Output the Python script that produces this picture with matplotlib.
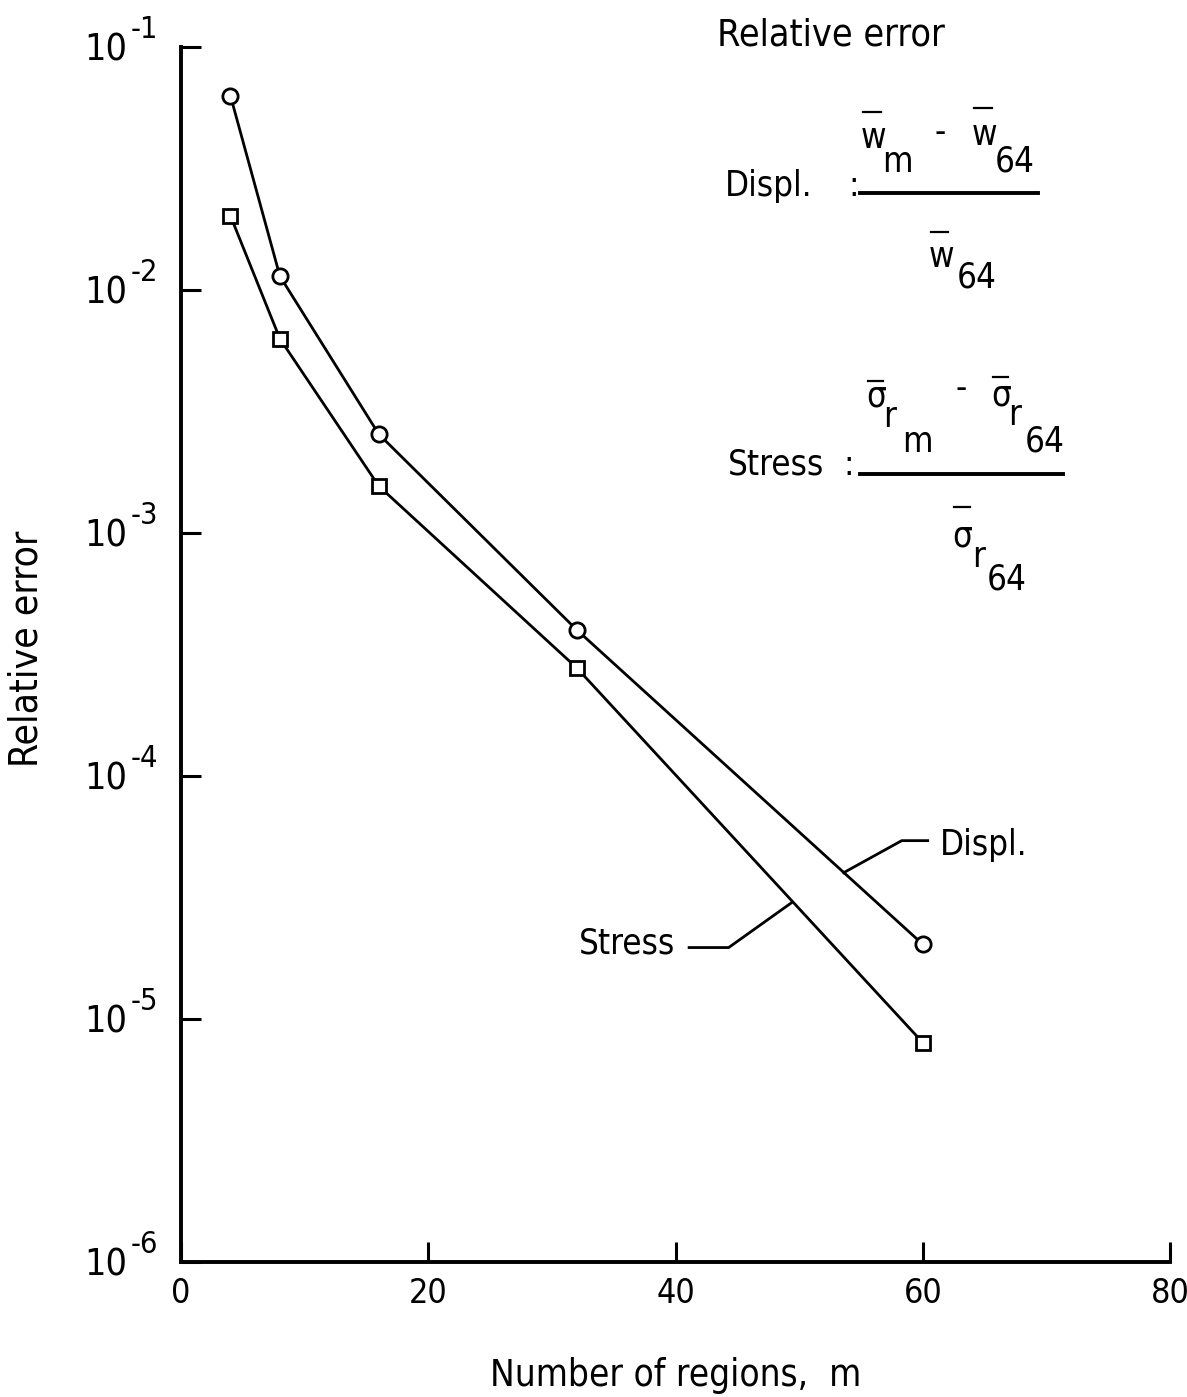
import numpy as np
import matplotlib
matplotlib.use('Agg')
import matplotlib.pyplot as plt
from matplotlib.lines import Line2D
from matplotlib import font_manager

# 字体：尽量用窄体
names = {f.name for f in font_manager.fontManager.ttflist}
FONT = 'Liberation Sans Narrow' if 'Liberation Sans Narrow' in names else 'DejaVu Sans'
plt.rcParams['font.family'] = [FONT]
plt.rcParams['font.stretch'] = 'condensed'

# 数据
regions = [4, 8, 16, 32, 60]
displ_err = [6.3e-2, 1.14e-2, 2.55e-3, 4.0e-4, 2.03e-5]
stress_err = [2.02e-2, 6.3e-3, 1.56e-3, 2.79e-4, 8.0e-6]

x_ticks = [0, 20, 40, 60, 80]
x_ticklabels = ['0', '20', '40', '60', '80']
y_ticks = [1e-6, 1e-5, 1e-4, 1e-3, 1e-2, 1e-1]
y_exponents = ['-6', '-5', '-4', '-3', '-2', '-1']

W, H = 1187, 1397
fig = plt.figure(figsize=(W / 100, H / 100), dpi=100)
L, R, T, B = 181, 1170, 47, 1262
ax = fig.add_axes([L / W, 1 - B / H, (R - L) / W, (B - T) / H])


def fx(px):
    return px / W


def fy(py):
    return 1 - py / H


ax.plot(regions, displ_err, color='black', lw=2, marker='o', ms=11,
        mfc='white', mec='black', mew=2)
ax.plot(regions, stress_err, color='black', lw=2, marker='s', ms=10,
        mfc='white', mec='black', mew=2)

ax.set_yscale('log')
ax.set_xlim(0, 80)
ax.set_ylim(1e-6, 1e-1)
ax.set_xticks(x_ticks)
ax.set_xticklabels(x_ticklabels)
ax.set_yticks(y_ticks)
ax.set_yticklabels(['10'] * len(y_ticks))
ax.yaxis.set_minor_locator(plt.NullLocator())
ax.tick_params(axis='both', direction='in', length=14.5, width=2.2)
ax.tick_params(axis='y', pad=39, labelsize=27)
ax.tick_params(axis='x', pad=11, labelsize=24.5)
for s in ['top', 'right']:
    ax.spines[s].set_visible(False)
for s in ['left', 'bottom']:
    ax.spines[s].set_linewidth(2.8)

# 指数单独写，字号大一些
for yt, ex in zip(y_ticks, y_exponents):
    ax.annotate(ex, xy=(0, yt), xycoords=('axes fraction', 'data'),
                xytext=(-36, 6.5), textcoords='offset points',
                fontsize=22, ha='left', va='baseline', annotation_clip=False)

ax.set_xlabel('Number of regions,  m', fontsize=26.5, va='top')
ax.xaxis.set_label_coords(0.5, -0.078)
ax.set_ylabel('Relative error', fontsize=28)
ax.yaxis.set_label_coords(-0.1375, 0.505)

# 曲线标注
ax.plot([53.6, 58.3, 60.4], [10 ** -4.398, 10 ** -4.266, 10 ** -4.266], color='black', lw=2)
ax.text(61.4, 10 ** -4.285, 'Displ.', fontsize=25, ha='left', va='center')
ax.plot([41.1, 44.3, 49.4], [10 ** -4.706, 10 ** -4.706, 10 ** -4.521], color='black', lw=2)
ax.text(40.0, 10 ** -4.69, 'Stress', fontsize=25, ha='right', va='center')


# 右上角公式（像素位置，基线对齐）
def put(px, py, s, size=25, ha='left'):
    fig.text(fx(px), fy(py), s, fontsize=size, ha=ha, va='baseline')


def hline(x0, x1, py, lw=2.8):
    fig.add_artist(Line2D([fx(x0), fx(x1)], [fy(py), fy(py)], color='black', lw=lw))


put(831, 45, 'Relative error', 27, ha='center')

put(725, 196, 'Displ.')
put(848, 196, ':')
hline(860, 1038, 193)
put(861, 148, 'w')
hline(863, 881, 112, 1.6)
put(882, 172, 'm')
put(940, 142, '-', ha='center')
put(972, 145, 'w')
hline(974, 992, 108, 1.6)
put(995, 172, '64')
put(929, 267, 'w')
hline(931, 948, 232, 1.6)
put(957, 288, '64')

put(728, 475, 'Stress')
put(843, 475, ':')
hline(860, 1063, 474)
put(866, 407, 'σ')
hline(868, 883, 381, 1.6)
put(883, 427, 'r')
put(902, 452, 'm')
put(961, 398, '-', ha='center')
put(991, 405, 'σ')
hline(993, 1008, 377, 1.6)
put(1008, 425, 'r')
put(1025, 452, '64')
put(952, 547, 'σ')
hline(954, 970, 507, 1.6)
put(972, 567, 'r')
put(987, 590, '64')

fig.savefig('out.png', dpi=100, facecolor='white')
